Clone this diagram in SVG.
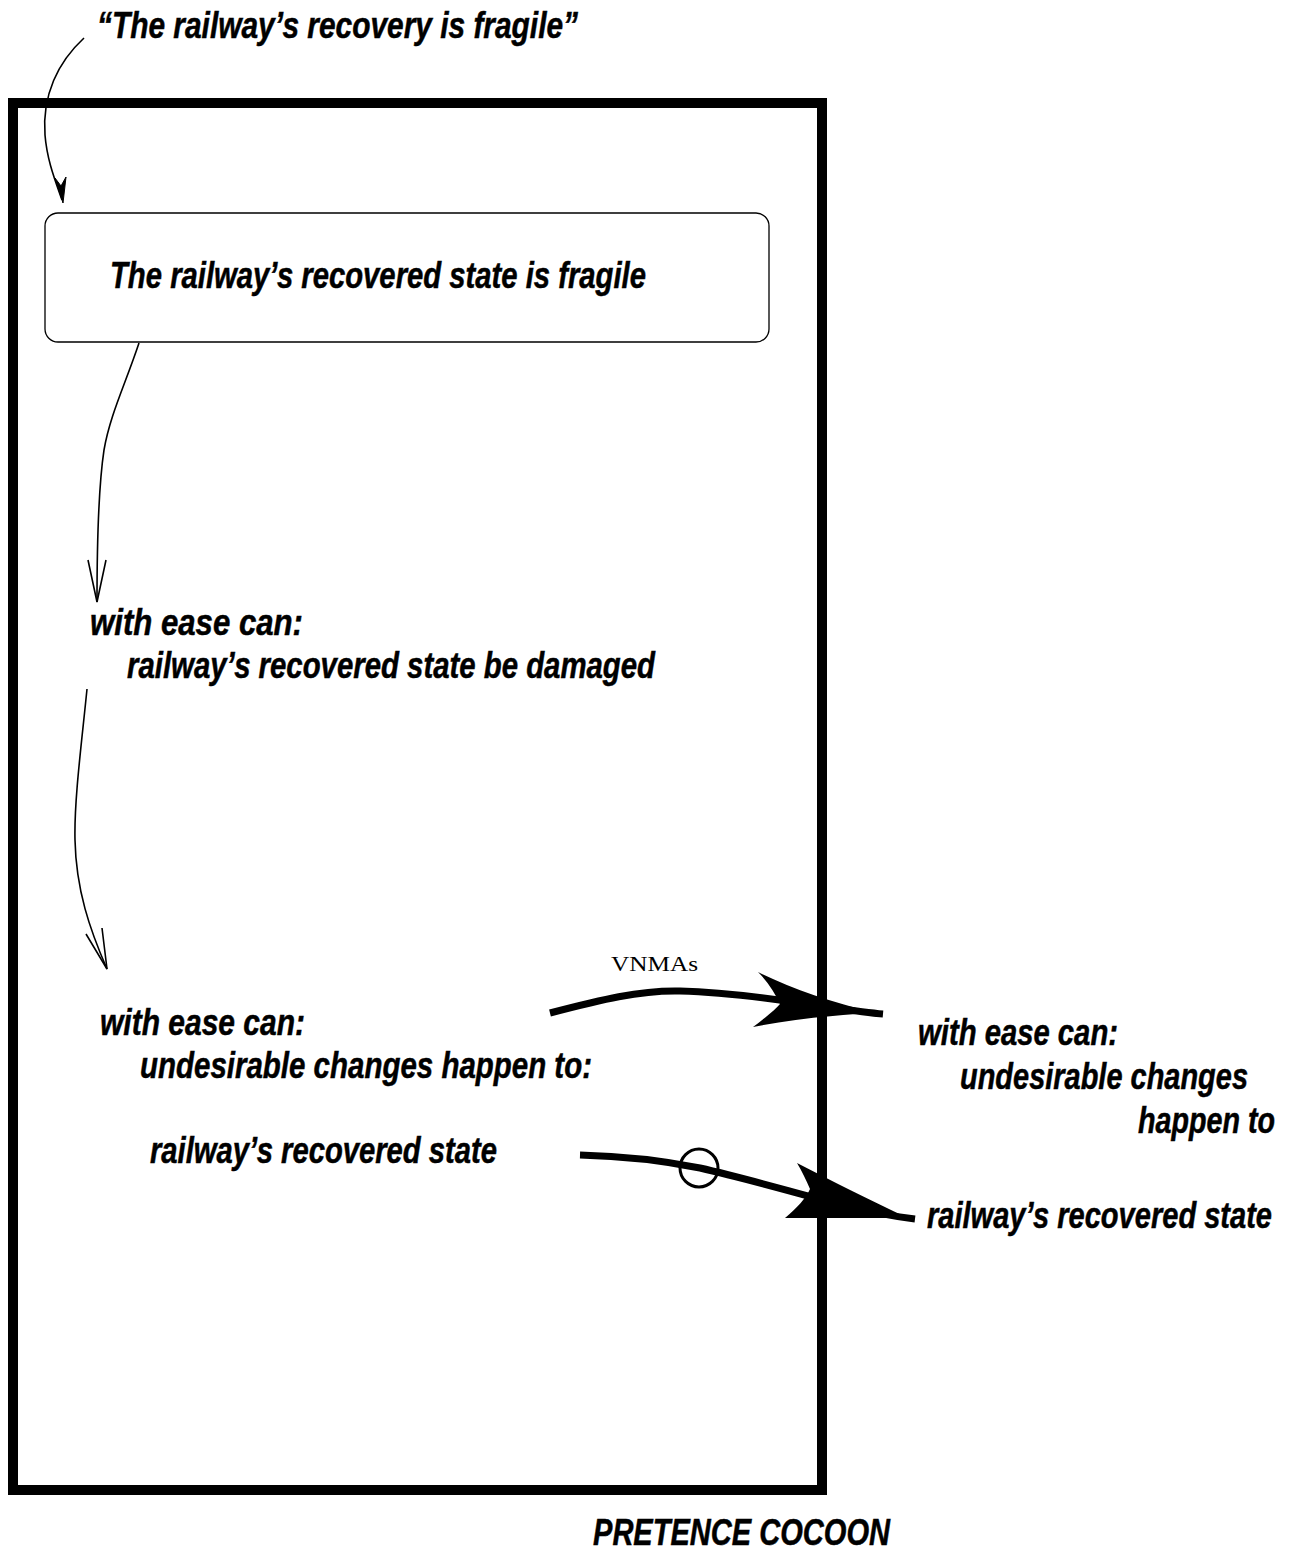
<svg xmlns="http://www.w3.org/2000/svg" width="1292" height="1550" viewBox="0 0 1292 1550">
  <style>
    .lbl { font-family: "Liberation Sans Narrow", "Liberation Sans", Arial, sans-serif; font-weight: bold; font-style: italic; font-size: 36px; fill: #000; stroke: #000; stroke-width: 0.5; }
    .serif { font-family: "Liberation Serif", "Times New Roman", serif; font-size: 21px; fill: #000; }
    .thin { fill: none; stroke: #000; stroke-width: 1.6; }
    .thick { fill: none; stroke: #000; stroke-width: 7; }
  </style>
  <rect width="1292" height="1550" fill="#fff"/>

  <!-- cocoon frame -->
  <g id="cocoon">
    <rect x="13" y="103" width="809" height="1387" fill="none" stroke="#000" stroke-width="10"/>
    <text class="lbl" x="593" y="1545" textLength="297" lengthAdjust="spacingAndGlyphs">PRETENCE COCOON</text>
  </g>

  <g id="quote">
    <text class="lbl" x="97" y="38" textLength="481" lengthAdjust="spacingAndGlyphs">“The railway’s recovery is fragile”</text>
  </g>

  <g id="fragile-box">
    <rect x="45" y="213" width="724" height="129" rx="13" ry="13" fill="#fff" stroke="#000" stroke-width="1.3"/>
    <text class="lbl" x="110" y="288" textLength="536" lengthAdjust="spacingAndGlyphs">The railway’s recovered state is fragile</text>
  </g>

  <g id="damaged">
    <text class="lbl" x="90" y="635" textLength="213" lengthAdjust="spacingAndGlyphs">with ease can:</text>
    <text class="lbl" x="127" y="678" textLength="528" lengthAdjust="spacingAndGlyphs">railway’s recovered state be damaged</text>
  </g>

  <g id="changes-inside">
    <text class="lbl" x="100" y="1035" textLength="205" lengthAdjust="spacingAndGlyphs">with ease can:</text>
    <text class="lbl" x="140" y="1078" textLength="452" lengthAdjust="spacingAndGlyphs">undesirable changes happen to:</text>
    <text class="lbl" x="150" y="1163" textLength="347" lengthAdjust="spacingAndGlyphs">railway’s recovered state</text>
  </g>

  <g id="changes-outside">
    <text class="lbl" x="918" y="1045" textLength="200" lengthAdjust="spacingAndGlyphs">with ease can:</text>
    <text class="lbl" x="960" y="1089" textLength="288" lengthAdjust="spacingAndGlyphs">undesirable changes</text>
    <text class="lbl" x="1138" y="1133" textLength="137" lengthAdjust="spacingAndGlyphs">happen to</text>
    <text class="lbl" x="927" y="1228" textLength="345" lengthAdjust="spacingAndGlyphs">railway’s recovered state</text>
  </g>

  <g id="connectors">
    <!-- quote to box -->
    <path class="thin" d="M 84 38 C 58 62, 42 95, 45 135 C 47 160, 55 180, 62 200"/>
    <path d="M 55 178 L 63 203 L 66 177 L 61 186 Z" fill="#000" stroke="#000" stroke-width="1"/>

    <!-- box to "be damaged" -->
    <path class="thin" d="M 139 343 C 125 385, 110 415, 104 450 C 98 490, 97 550, 97 602"/>
    <path class="thin" d="M 88 560 L 97 602 L 106 560"/>

    <!-- "be damaged" to "undesirable changes" -->
    <path class="thin" d="M 87 689 C 82 740, 74 800, 75 840 C 76 890, 90 930, 107 969"/>
    <path class="thin" d="M 86 934 L 107 969 L 102 928"/>

    <!-- VNMAs: inside changes carried outside -->
    <path class="thick" d="M 550 1013 C 600 1000, 640 990, 680 991 C 720 992, 760 997, 800 1003 C 830 1007, 860 1012, 883 1014"/>
    <path d="M 758 972 C 790 988, 830 1002, 876 1013 C 830 1015, 790 1020, 753 1027 C 765 1018, 775 1010, 780 1004 C 775 993, 768 982, 758 972 Z" fill="#000"/>
    <text class="serif" x="611" y="971" textLength="87" lengthAdjust="spacingAndGlyphs">VNMAs</text>

    <!-- recovered state carried outside -->
    <path class="thick" d="M 580 1155 C 620 1156, 660 1160, 700 1168 C 740 1177, 790 1191, 830 1202 C 860 1210, 890 1216, 915 1219"/>
    <path d="M 797 1163 C 830 1180, 870 1200, 908 1218 C 870 1218, 825 1218, 785 1218 C 797 1208, 806 1198, 810 1189 C 806 1180, 802 1171, 797 1163 Z" fill="#000"/>
    <circle cx="699" cy="1168" r="19" fill="none" stroke="#000" stroke-width="3"/>
  </g>
</svg>
